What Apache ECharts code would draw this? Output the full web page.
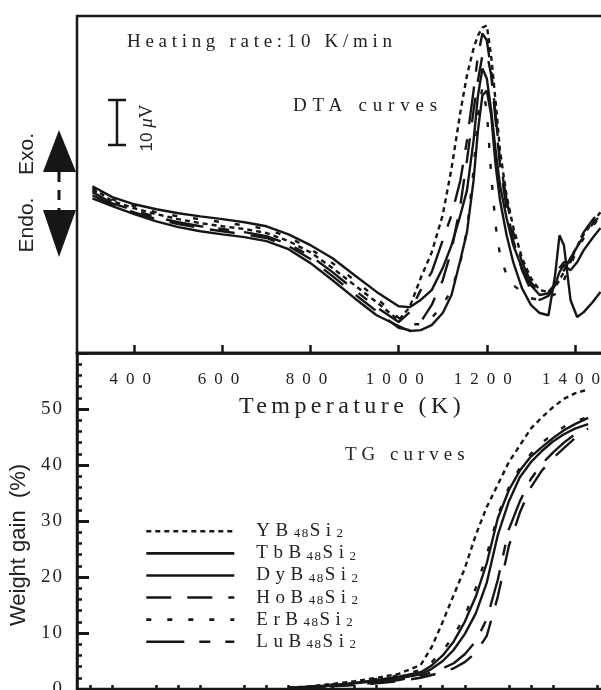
<!DOCTYPE html>
<html><head><meta charset="utf-8">
<script src="https://cdn.jsdelivr.net/npm/echarts@6/dist/echarts.min.js"></script>
<style>html,body{margin:0;padding:0;background:#fff}#c{width:601px;height:690px}</style>
</head><body><div id="c"></div>
<script>
// letter spacing support: a pseudo family "lsN_M" in the font string sets ctx.letterSpacing
(function () {
  var P = CanvasRenderingContext2D.prototype;
  if (!('letterSpacing' in P)) return;
  var ft = P.fillText, st = P.strokeText, mt = P.measureText;
  function apply(ctx) {
    var m = /ls(\d+(?:_\d+)?)/.exec(ctx.font || '');
    var v = m ? m[1].replace('_', '.') + 'px' : '0px';
    if (ctx.letterSpacing !== v) ctx.letterSpacing = v;
  }
  P.fillText = function () { apply(this); return ft.apply(this, arguments); };
  P.strokeText = function () { apply(this); return st.apply(this, arguments); };
  P.measureText = function () { apply(this); return mt.apply(this, arguments); };
})();
function serif(sp) { return "'Liberation Serif', ls" + String(sp).replace('.', '_') + ", serif"; }
var SANS = "'Liberation Sans', Arial, sans-serif";
var INK = '#161616';

// ---------- data ----------
var seriesNames = ['YB48Si2', 'TbB48Si2', 'DyB48Si2', 'HoB48Si2', 'ErB48Si2', 'LuB48Si2'];

// DTA (signal in microvolt, arbitrary zero)
var dtaTemp = [305, 350, 400, 450, 500, 550, 600, 650, 700, 750, 800, 850, 900, 950, 1000, 1025, 1050, 1075, 1100, 1120, 1140, 1155, 1170, 1180, 1190, 1200, 1210, 1220, 1230, 1245, 1260, 1280, 1300, 1320, 1340, 1355, 1365, 1375, 1390, 1405, 1420, 1440, 1458];
var dtaY  = [36.7, 33.8, 32.2, 30.9, 29.8, 28.9, 28.2, 27.6, 26.7, 24.9, 22.4, 18.9, 15.1, 11.3, 7.3, 10.2, 16.7, 22.4, 30.7, 41.1, 53.6, 61.8, 67.8, 70.7, 72.4, 72.9, 66.0, 56.0, 45.0, 35.0, 28.0, 21.1, 16.7, 14.0, 13.6, 14.7, 16.2, 18.0, 21.1, 23.8, 26.4, 29.1, 31.3];
var dtaTb = [37.1, 34.7, 33.1, 32.0, 31.1, 30.4, 29.8, 29.1, 28.2, 26.4, 24.0, 21.1, 17.3, 13.6, 10.4, 10.2, 11.8, 14.0, 18.9, 24.0, 30.7, 36.2, 47.3, 57.3, 63.3, 61.1, 54.0, 45.1, 37.3, 30.0, 24.0, 18.9, 15.1, 12.9, 13.3, 15.1, 18.0, 19.6, 18.4, 20.2, 22.9, 25.6, 27.8];
var dtaDy = [34.4, 32.7, 30.9, 29.3, 28.0, 27.1, 26.4, 25.8, 24.9, 23.1, 20.0, 16.2, 12.2, 8.4, 6.0, 4.9, 5.1, 6.2, 8.9, 12.9, 20.7, 26.9, 38.4, 49.6, 57.3, 58.4, 52.9, 41.8, 34.0, 26.2, 20.2, 14.4, 10.7, 8.9, 8.4, 17.3, 26.2, 24.0, 11.8, 8.0, 9.1, 11.3, 13.6];
var dtaHo = [35.1, 32.9, 31.3, 29.8, 28.7, 27.8, 27.1, 26.4, 25.6, 23.8, 20.9, 17.1, 13.1, 9.3, 5.6, 5.1, 6.9, 10.7, 16.2, 22.9, 32.9, 42.9, 54.0, 60.7, 66.2, 66.9, 61.8, 51.8, 41.8, 32.2, 25.1, 18.4, 14.0, 11.8, 12.7, 15.1, 18.9, 20.2, 20.2, 24.0, 26.9, 29.6, 31.8];
var dtaEr = [36.2, 34.2, 32.7, 31.3, 30.4, 29.8, 29.1, 28.4, 27.6, 25.8, 23.1, 20.0, 16.2, 12.2, 7.8, 6.4, 6.4, 7.8, 10.7, 14.0, 20.2, 27.3, 40.7, 52.9, 59.1, 54.0, 39.6, 28.4, 21.8, 17.3, 15.1, 13.6, 12.2, 11.8, 12.4, 13.1, 14.4, 16.2, 19.6, 22.9, 25.6, 28.2, 30.4];
var dtaLu = [35.8, 33.3, 31.8, 30.2, 29.1, 28.2, 27.6, 26.9, 26.0, 24.2, 21.6, 18.0, 14.0, 10.2, 6.9, 9.1, 14.0, 18.0, 25.1, 30.7, 38.4, 47.3, 58.4, 66.2, 71.1, 69.6, 62.9, 52.9, 42.9, 34.0, 26.9, 20.2, 15.8, 13.3, 13.6, 15.3, 16.9, 18.4, 21.1, 23.6, 26.0, 28.7, 30.7];

// TG (weight gain, %)
var tgTemp = [750, 800, 850, 900, 950, 1000, 1050, 1075, 1100, 1125, 1150, 1175, 1200, 1225, 1250, 1275, 1300, 1325, 1350, 1375, 1400, 1430];
var tgY  = [0.2, 0.5, 0.9, 1.4, 2.0, 2.7, 4.3, 7.5, 12.0, 16.8, 21.5, 27.5, 32.5, 36.5, 40.5, 43.5, 46.5, 48.5, 50.3, 51.8, 52.8, 53.5];
var tgTb = [0.2, 0.4, 0.7, 1.1, 1.6, 2.2, 3.0, 4.2, 6.0, 8.5, 12.0, 16.5, 22.5, 30.5, 35.5, 39.0, 41.5, 43.2, 44.8, 46.2, 47.3, 48.4];
var tgDy = [0.2, 0.4, 0.6, 1.0, 1.4, 1.9, 2.6, 3.6, 5.0, 7.0, 9.8, 13.5, 19.0, 27.5, 33.5, 37.8, 40.5, 42.5, 44.2, 45.5, 46.5, 47.3];
var tgHo = [0.1, 0.3, 0.5, 0.7, 1.0, 1.4, 2.0, 2.5, 3.0, 3.7, 4.8, 6.5, 9.5, 16.5, 25.5, 31.5, 36.0, 39.0, 41.2, 43.0, 44.8, 46.0];
var tgEr = [0.2, 0.4, 0.8, 1.2, 1.8, 2.4, 3.4, 4.8, 6.8, 9.5, 13.0, 18.0, 24.0, 31.0, 36.0, 39.5, 42.0, 44.0, 45.5, 46.8, 47.8, 48.6];
var tgLu = [0.1, 0.3, 0.5, 0.8, 1.1, 1.6, 2.3, 3.0, 3.7, 4.6, 6.2, 8.5, 12.5, 19.5, 28.5, 33.5, 37.5, 40.2, 42.2, 44.0, 45.5, 46.5];

// ticks
var xMajorTicks = [400, 600, 800, 1000, 1200, 1400];
var xMinorTicks = [300, 350, 450, 500, 550, 650, 700, 750, 850, 900, 950, 1050, 1100, 1150, 1250, 1300, 1350, 1450];

// ---------- styles ----------
var dashes = {
  'YB48Si2': [5, 4],
  'TbB48Si2': 'solid',
  'DyB48Si2': 'solid',
  'HoB48Si2': [25, 16],
  'ErB48Si2': [5, 16],
  'LuB48Si2': [38, 15, 11, 15]
};
var dtaValues = [dtaY, dtaTb, dtaDy, dtaHo, dtaEr, dtaLu];
var tgValues = [tgY, tgTb, tgDy, tgHo, tgEr, tgLu];

function zip(xs, ys) { return xs.map(function (x, i) { return [x, ys[i]]; }); }

var series = [];
seriesNames.forEach(function (name, i) {
  series.push({
    name: name, type: 'line', xAxisIndex: 0, yAxisIndex: 0,
    data: zip(dtaTemp, dtaValues[i]), symbol: 'none', silent: true,
    lineStyle: { color: INK, width: 2.4, type: dashes[name] }, itemStyle: { color: INK }
  });
});
seriesNames.forEach(function (name, i) {
  series.push({
    name: name, type: 'line', xAxisIndex: 1, yAxisIndex: 1,
    data: zip(tgTemp, tgValues[i]), symbol: 'none', silent: true,
    lineStyle: { color: INK, width: 2.4, type: dashes[name] }, itemStyle: { color: INK }
  });
});

var XMIN = 270, XMAX = 1466;

var chart = echarts.init(document.getElementById('c'), null, { renderer: 'canvas' });
chart.setOption({
  animation: false,
  backgroundColor: '#fff',
  grid: [
    { left: 77, right: -3, top: 16, height: 337, outerBoundsMode: 'none', containLabel: false, show: true, borderColor: INK, borderWidth: 2.5, backgroundColor: 'transparent' },
    { left: 77, right: -3, top: 353, height: 336, outerBoundsMode: 'none', containLabel: false, show: true, borderColor: INK, borderWidth: 2.5, backgroundColor: 'transparent' }
  ],
  xAxis: [
    {
      gridIndex: 0, type: 'value', min: XMIN, max: XMAX, position: 'bottom',
      axisLine: { show: true, lineStyle: { color: INK, width: 2.5 } },
      axisTick: { show: true, inside: true, length: 8, customValues: xMajorTicks, lineStyle: { color: INK, width: 2.5 } },
      axisLabel: { show: true, customValues: xMajorTicks, margin: 14, color: '#222', fontSize: 17, fontFamily: serif(8),
        formatter: function (v) { return String(v); } },
      splitLine: { show: false },
      name: 'Temperature (K)', nameLocation: 'middle', nameGap: 40,
      nameTextStyle: { fontSize: 24, fontFamily: serif(4.4), color: '#222', padding: [0, 0, 0, 23] }
    },
    {
      gridIndex: 1, type: 'value', min: XMIN, max: XMAX, position: 'top',
      axisLine: { show: false },
      axisTick: { show: true, inside: false, length: 4, customValues: xMinorTicks, lineStyle: { color: INK, width: 2.5 } },
      axisLabel: { show: false },
      splitLine: { show: false }
    }
  ],
  yAxis: [
    { gridIndex: 0, type: 'value', min: 0, max: 75, show: false, splitLine: { show: false } },
    {
      gridIndex: 1, type: 'value', min: 0, max: 60, interval: 10,
      axisLine: { show: true, lineStyle: { color: INK, width: 2.5 } },
      axisTick: { show: true, inside: true, length: 12, lineStyle: { color: INK, width: 3 } },
      minorTick: { show: true, splitNumber: 5, length: 5, lineStyle: { color: INK, width: 2.5 } },
      axisLabel: {
        margin: 13, color: '#222', fontSize: 19, fontFamily: serif(2),
        formatter: function (v) { return v >= 60 ? '' : String(v); }
      },
      splitLine: { show: false },
      name: 'Weight gain  (%)', nameLocation: 'middle', nameGap: 42, nameRotate: 90,
      nameTextStyle: { fontSize: 22, fontFamily: SANS, color: '#222', padding: [0, 48, 0, 0] }
    }
  ],
  legend: {
    data: seriesNames, orient: 'vertical', left: 140, top: 514,
    itemWidth: 88, itemHeight: 14, itemGap: -2.4, selectedMode: false,
    itemStyle: { opacity: 0 },
    lineStyle: { width: 2.6, color: INK },
    formatter: function (name) {
      return '{m|' + name.replace(/(\d+)/g, '}{s|$1}{m|') + '}';
    },
    textStyle: {
      padding: [0, 0, 0, 17],
      rich: {
        m: { fontFamily: serif(5.5), fontSize: 19, lineHeight: 20, color: '#222' },
        s: { fontFamily: serif(1.5), fontSize: 13, lineHeight: 12, verticalAlign: 'bottom', color: '#222' }
      }
    }
  },
  graphic: [
    { type: 'text', x: 127, y: 42, silent: true,
      style: { text: 'Heating rate:10 K/min', fill: '#222', fontSize: 19, fontFamily: serif(4.7), align: 'left', verticalAlign: 'middle' } },
    { type: 'text', x: 293, y: 106, silent: true,
      style: { text: 'DTA curves', fill: '#222', fontSize: 19, fontFamily: serif(5.8), align: 'left', verticalAlign: 'middle' } },
    { type: 'text', x: 345, y: 455, silent: true,
      style: { text: 'TG curves', fill: '#222', fontSize: 19, fontFamily: serif(5), align: 'left', verticalAlign: 'middle' } },
    // Exo / Endo arrows
    { type: 'polygon', silent: true, shape: { points: [[59, 130], [43, 172], [76, 172]] }, style: { fill: INK } },
    { type: 'line', silent: true, shape: { x1: 59, y1: 172, x2: 59, y2: 211 }, style: { stroke: INK, lineWidth: 3, lineDash: [10, 8] } },
    { type: 'polygon', silent: true, shape: { points: [[43, 210], [76, 210], [59, 257]] }, style: { fill: INK } },
    { type: 'text', x: 27, y: 154, rotation: Math.PI / 2, silent: true,
      style: { text: 'Exo.', fill: '#222', fontSize: 21, fontFamily: SANS, align: 'center', verticalAlign: 'middle' } },
    { type: 'text', x: 27, y: 225, rotation: Math.PI / 2, silent: true,
      style: { text: 'Endo.', fill: '#222', fontSize: 21, fontFamily: SANS, align: 'center', verticalAlign: 'middle' } },
    // 10 microvolt scale bar
    { type: 'line', silent: true, shape: { x1: 117, y1: 100, x2: 117, y2: 145 }, style: { stroke: INK, lineWidth: 2.5 } },
    { type: 'line', silent: true, shape: { x1: 108, y1: 100, x2: 126, y2: 100 }, style: { stroke: INK, lineWidth: 2.5 } },
    { type: 'line', silent: true, shape: { x1: 108, y1: 145, x2: 126, y2: 145 }, style: { stroke: INK, lineWidth: 2.5 } },
    { type: 'text', x: 147, y: 128, rotation: Math.PI / 2, silent: true,
      style: {
        text: '{a|10 }{b|μ}{c|V}', fill: '#222', align: 'center', verticalAlign: 'middle',
        rich: {
          a: { fontSize: 17, fontFamily: SANS, fill: '#222' },
          b: { fontSize: 19, fontFamily: "'Liberation Serif', serif", fontStyle: 'italic', fill: '#222' },
          c: { fontSize: 19, fontFamily: "'Liberation Serif', serif", fill: '#222' }
        }
      } }
  ],
  series: series
});
</script></body></html>
